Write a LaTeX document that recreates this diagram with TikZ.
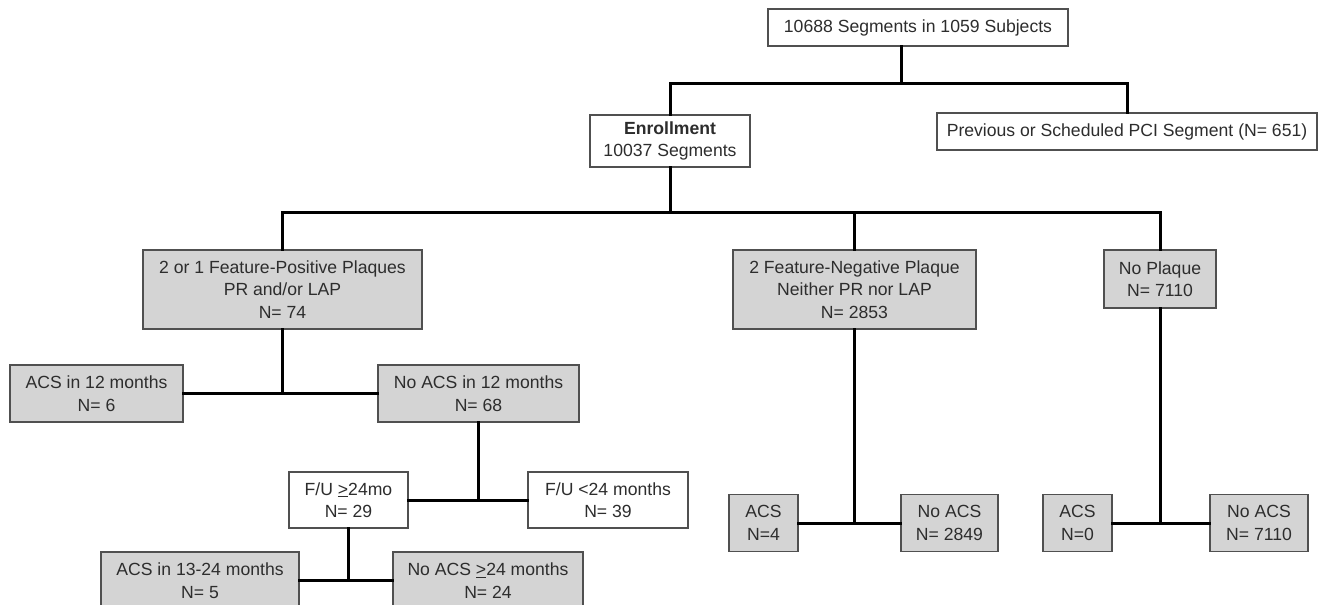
\documentclass[tikz,border=0pt]{standalone}
\usepackage{fontspec}
\setmainfont{Liberation Sans}
\usepackage{tikz}
\definecolor{boxgray}{RGB}{212,212,212}
\definecolor{boxline}{RGB}{80,80,80}
\definecolor{inkgray}{RGB}{45,45,45}
\newcommand\fs{\fontsize{17.6}{22.5}\selectfont}
\tikzset{
  base/.style={draw=boxline, line width=1.3pt, align=center, inner sep=0pt, text=inkgray, font=\fs},
  wbox/.style 2 args={base, fill=white, minimum width=#1, minimum height=#2},
  gbox/.style 2 args={base, fill=boxgray, minimum width=#1, minimum height=#2},
  link/.style={line width=3pt, line cap=rect}
}
\begin{document}
\begin{tikzpicture}[x=1pt,y=-1pt]
  \clip (0,0) rectangle (1320,605);
  \fill[white] (0,0) rectangle (1320,605);

  \node[wbox={300pt}{37pt}] (top) at (918,27.5) {10688 Segments in 1059 Subjects};
  \node[wbox={160pt}{52pt}] (enroll) at (670,141) {\textbf{Enrollment}\\10037 Segments};
  \node[wbox={380pt}{37pt}] (prev) at (1127,131.5) {Previous or Scheduled PCI Segment (N= 651)};

  \node[gbox={279pt}{79pt}] (feat) at (282.5,289.5) {2 or 1 Feature-Positive Plaques\\PR and/or LAP\\N= 74};
  \node[gbox={243pt}{79pt}] (neg) at (854.5,289.5) {2 Feature-Negative Plaque\\Neither PR nor LAP\\N= 2853};
  \node[gbox={112pt}{58pt}] (noplq) at (1160,279) {No Plaque\\N= 7110};

  \node[gbox={173pt}{57pt}] (acs12) at (96.5,393.5) {ACS in 12 months\\N= 6};
  \node[gbox={201pt}{57pt}] (noacs12) at (478.5,393.5) {No ACS in 12 months\\N= 68};

  \node[wbox={119pt}{56pt}] (fu24) at (348.5,500) {F/U \underline{>}24mo\\N= 29};
  \node[wbox={160pt}{56pt}] (fulow) at (608,500) {F/U <24 months\\N= 39};

  \node[gbox={198pt}{57pt}] (acs1324) at (200,580.5) {ACS in 13-24 months\\N= 5};
  \node[gbox={190pt}{57pt}] (noacs24) at (488,580.5) {No ACS \underline{>}24 months\\N= 24};

  \node[gbox={69pt}{57pt}] (acs4) at (763.5,523) {ACS\\N=4};
  \node[gbox={97pt}{57pt}] (noacs2849) at (949.5,523) {No ACS\\N= 2849};
  \node[gbox={69pt}{57pt}] (acs0) at (1077.5,523) {ACS\\N=0};
  \node[gbox={98pt}{57pt}] (noacs7110) at (1259,523) {No ACS\\N= 7110};

  \coordinate (j0) at (901,83);
  \coordinate (bar1) at (669,212);

  \draw[link] (top.south -| j0) -- (j0);
  \draw[link] (enroll.north) |- (j0) -| (prev.north);
  \draw[link] (enroll) -- (enroll |- bar1);
  \draw[link] (feat.north) |- (noplq.north |- bar1) -- (noplq.north);
  \draw[link] (neg.north |- bar1) -- (neg.north);

  \draw[link] (feat) -- (feat |- acs12);
  \draw[link] (acs12) -- (noacs12);
  \draw[link] (noacs12) -- (noacs12 |- fu24);
  \draw[link] (fu24) -- (fulow);
  \draw[link] (fu24) -- (fu24 |- acs1324);
  \draw[link] (acs1324) -- (noacs24);

  \draw[link] (neg) -- (neg |- acs4);
  \draw[link] (acs4) -- (noacs2849);
  \draw[link] (noplq) -- (noplq |- acs0);
  \draw[link] (acs0) -- (noacs7110);
\end{tikzpicture}
\end{document}
